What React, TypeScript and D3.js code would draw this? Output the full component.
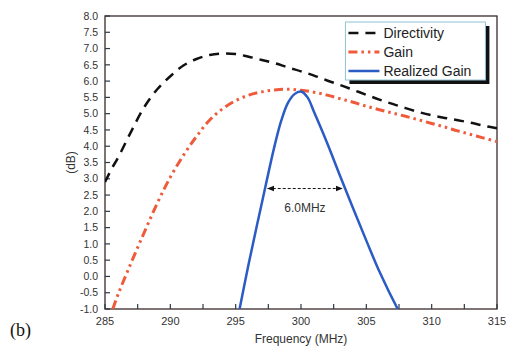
import { useEffect, useRef } from 'react'
import * as d3 from 'd3'

// frequency (MHz) / dB pairs
const directivityFreq = [285, 285.5, 286, 287, 288, 289, 290, 291, 292, 293, 294, 295, 296, 297, 298, 299, 300, 301, 302, 303, 304, 305, 306, 307, 308, 309, 310, 311, 312, 313, 314, 315]
const directivityDb = [2.9, 3.3, 3.65, 4.45, 5.2, 5.75, 6.15, 6.48, 6.68, 6.8, 6.85, 6.83, 6.75, 6.65, 6.55, 6.42, 6.3, 6.17, 6.02, 5.88, 5.73, 5.58, 5.43, 5.3, 5.17, 5.05, 4.95, 4.87, 4.8, 4.72, 4.63, 4.55]

const gainFreq = [285.6, 286, 287, 288, 289, 290, 291, 292, 293, 294, 295, 296, 297, 298, 299, 300, 301, 302, 303, 304, 305, 306, 307, 308, 309, 310, 311, 312, 313, 314, 315]
const gainDb = [-1, -0.55, 0.42, 1.35, 2.25, 3.05, 3.72, 4.3, 4.8, 5.15, 5.4, 5.57, 5.67, 5.73, 5.75, 5.72, 5.66, 5.57, 5.46, 5.35, 5.23, 5.12, 5.02, 4.92, 4.81, 4.7, 4.59, 4.47, 4.36, 4.25, 4.14]

const realizedFreq = [295.3, 296, 297, 298, 298.5, 299, 299.5, 300, 300.5, 301, 302, 303, 304, 305, 306, 307.4]
const realizedDb = [-1, 0.4, 2.25, 4.05, 4.8, 5.33, 5.6, 5.68, 5.5, 5.05, 4.1, 3.08, 2.08, 1.1, 0.15, -1]

const bandwidth = [297.3, 303.3]
const bandwidthLevel = 2.7

const xTicks = [285, 290, 295, 300, 305, 310, 315]
const xMinorTicks = [287.5, 292.5, 297.5, 302.5, 307.5, 312.5]
const yTicks = d3.range(-1, 8.01, 0.5)

export default function App() {
  const ref = useRef<SVGSVGElement>(null)

  useEffect(() => {
    const svg = d3.select(ref.current)
    svg.selectAll('*').remove()

    const margin = { top: 16, right: 11, bottom: 40, left: 105 }
    const width = 508 - margin.left - margin.right
    const height = 349 - margin.top - margin.bottom

    const x = d3.scaleLinear().domain([285, 315]).range([0, width])
    const y = d3.scaleLinear().domain([-1, 8]).range([height, 0])

    const g = svg.append('g').attr('transform', `translate(${margin.left},${margin.top})`)

    const defs = svg.append('defs')
    defs.append('clipPath').attr('id', 'plot-clip')
      .append('rect').attr('width', width).attr('height', height)
    defs.append('marker')
      .attr('id', 'arrow')
      .attr('viewBox', '0 0 10 10')
      .attr('refX', 9).attr('refY', 5)
      .attr('markerWidth', 7).attr('markerHeight', 7)
      .attr('orient', 'auto-start-reverse')
      .append('path').attr('d', 'M0,1 L10,5 L0,9 Z').attr('fill', '#111')

    const fontTick = 'Arial, "Liberation Sans", sans-serif'

    // frame
    g.append('rect')
      .attr('width', width).attr('height', height)
      .attr('fill', 'none').attr('stroke', '#3a2a28').attr('stroke-width', 1.3)

    // ticks (inward)
    g.selectAll('.ytick').data(yTicks).enter().append('line')
      .attr('x1', 0).attr('x2', 5)
      .attr('y1', d => y(d)).attr('y2', d => y(d))
      .attr('stroke', '#2c3a44').attr('stroke-width', 1.2)
    g.selectAll('.xtick').data(xTicks.concat(xMinorTicks)).enter().append('line')
      .attr('x1', d => x(d)).attr('x2', d => x(d))
      .attr('y1', height).attr('y2', height - 5)
      .attr('stroke', '#2c3a44').attr('stroke-width', 1.2)

    g.selectAll('.ylab').data(yTicks).enter().append('text')
      .attr('x', -7).attr('y', d => y(d)).attr('dy', '0.35em')
      .attr('text-anchor', 'end')
      .style('font-family', fontTick).style('font-size', '10.5px').attr('fill', '#333')
      .text(d => d.toFixed(1))
    g.selectAll('.xlab').data(xTicks).enter().append('text')
      .attr('x', d => x(d)).attr('y', height + 16)
      .attr('text-anchor', 'middle')
      .style('font-family', fontTick).style('font-size', '11px').attr('fill', '#333')
      .text(d => d)

    g.append('text')
      .attr('x', x(300)).attr('y', height + 34)
      .attr('text-anchor', 'middle')
      .style('font-family', fontTick).style('font-size', '12px').attr('fill', '#333')
      .text('Frequency (MHz)')
    g.append('text')
      .attr('transform', `translate(${-30},${y(3.5)}) rotate(-90)`)
      .attr('text-anchor', 'middle')
      .style('font-family', fontTick).style('font-size', '12px').attr('fill', '#333')
      .text('(dB)')

    svg.append('text')
      .attr('x', 10).attr('y', 336)
      .style('font-family', '"Liberation Serif", "Times New Roman", serif').style('font-size', '18px').attr('fill', '#111')
      .text('(b)')

    const line = d3.line<[number, number]>()
      .x(d => x(d[0])).y(d => y(d[1]))
      .curve(d3.curveCatmullRom.alpha(0.5))

    const plot = g.append('g').attr('clip-path', 'url(#plot-clip)')

    plot.append('path')
      .datum(directivityFreq.map((f, i) => [f, directivityDb[i]] as [number, number]))
      .attr('d', line).attr('fill', 'none')
      .attr('stroke', '#111').attr('stroke-width', 2.5)
      .attr('stroke-dasharray', '10,7')

    plot.append('path')
      .datum(gainFreq.map((f, i) => [f, gainDb[i]] as [number, number]))
      .attr('d', line).attr('fill', 'none')
      .attr('stroke', '#ef5a3a').attr('stroke-width', 3)
      .attr('stroke-dasharray', '9,4,2.5,4,2.5,4')

    plot.append('path')
      .datum(realizedFreq.map((f, i) => [f, realizedDb[i]] as [number, number]))
      .attr('d', line).attr('fill', 'none')
      .attr('stroke', '#2b5bc4').attr('stroke-width', 2.5)

    // 6.0 MHz bandwidth annotation
    g.append('line')
      .attr('x1', x(bandwidth[0]) + 2).attr('x2', x(bandwidth[1]) - 2)
      .attr('y1', y(bandwidthLevel)).attr('y2', y(bandwidthLevel))
      .attr('stroke', '#111').attr('stroke-width', 1)
      .attr('stroke-dasharray', '3,2')
      .attr('marker-start', 'url(#arrow)').attr('marker-end', 'url(#arrow)')
    g.append('text')
      .attr('x', x((bandwidth[0] + bandwidth[1]) / 2)).attr('y', y(bandwidthLevel) + 23)
      .attr('text-anchor', 'middle')
      .style('font-family', fontTick).style('font-size', '12px').attr('fill', '#333')
      .text('6.0MHz')

    // legend
    const legend = g.append('g').attr('transform', `translate(${x(303.4)},${6})`)
    const lw = 140, lh = 58
    legend.append('rect')
      .attr('x', 4).attr('y', 4).attr('width', lw).attr('height', lh)
      .attr('fill', '#111')
    legend.append('rect')
      .attr('width', lw).attr('height', lh)
      .attr('fill', '#fff').attr('stroke', '#8fc3d6').attr('stroke-width', 1)

    const items = [
      { name: 'Directivity', color: '#111', dash: '10,7', w: 2.5 },
      { name: 'Gain', color: '#ef5a3a', dash: '9,4,2.5,4,2.5,4', w: 3 },
      { name: 'Realized Gain', color: '#2b5bc4', dash: null, w: 2.5 }
    ]
    items.forEach((it, i) => {
      const yy = 11 + i * 19
      legend.append('line')
        .attr('x1', 3).attr('x2', 34).attr('y1', yy).attr('y2', yy)
        .attr('stroke', it.color).attr('stroke-width', it.w)
        .attr('stroke-dasharray', it.dash)
      legend.append('text')
        .attr('x', 38).attr('y', yy).attr('dy', '0.36em')
        .style('font-family', fontTick).style('font-size', '14px').attr('fill', '#222')
        .text(it.name)
    })
  }, [])

  return (
    <svg ref={ref} width={508} height={349}
      style={{ position: 'absolute', left: 0, top: 0, background: '#fff' }} />
  )
}
